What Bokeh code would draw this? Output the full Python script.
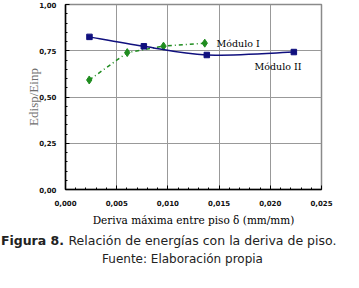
from bokeh.plotting import figure
from bokeh.layouts import column
from bokeh.models import Range1d, SingleIntervalTicker, CustomJSTickFormatter, Label
from bokeh.core.properties import value
from bokeh.embed import file_html
from bokeh.resources import INLINE

# ---- data ----
mod2_x = [0.00234, 0.00765, 0.0138, 0.0223]
mod2_y = [0.825, 0.774, 0.727, 0.743]
mod1_x = [0.00232, 0.00603, 0.00957, 0.0136]
mod1_y = [0.592, 0.740, 0.775, 0.791]
series_names = ["Módulo I", "Módulo II"]
x_title = "Deriva máxima entre piso δ (mm/mm)"
y_title = "Edisp/Einp"
caption_bold = "Figura 8."
caption_rest = "Relación de energías con la deriva de piso."
source_note = "Fuente: Elaboración propia"

BLUE = "#10107e"
GREEN = "#1f8c1f"
W = 343

p = figure(width=W, height=228, output_backend="svg", toolbar_location=None,
           x_range=Range1d(0, 0.025), y_range=Range1d(0, 1.0),
           min_border_left=65, min_border_right=22, min_border_top=4, min_border_bottom=38,
           frame_align=False)
p.background_fill_color = "white"
p.border_fill_color = "white"
p.outline_line_color = "#8a8a8a"
p.outline_line_width = 1.5

p.xaxis.ticker = SingleIntervalTicker(interval=0.005, num_minor_ticks=5)
p.yaxis.ticker = SingleIntervalTicker(interval=0.25, num_minor_ticks=5)
p.xaxis.formatter = CustomJSTickFormatter(code="return tick.toFixed(3).replace('.', ',');")
p.yaxis.formatter = CustomJSTickFormatter(code="return tick.toFixed(2).replace('.', ',');")

for ax in (p.xaxis[0], p.yaxis[0]):
    ax.axis_line_color = "black"
    ax.axis_line_width = 1.5
    ax.major_tick_in = 4
    ax.major_tick_out = 0
    ax.minor_tick_in = 2
    ax.minor_tick_out = 0
    ax.major_tick_line_color = "black"
    ax.minor_tick_line_color = "black"
    ax.major_label_text_font = "DejaVu Sans"
    ax.major_label_text_font_style = "bold"
    ax.major_label_text_font_size = "7px"
    ax.major_label_text_color = "#111111"

p.xaxis.major_label_standoff = 10
p.yaxis.major_label_standoff = 9
p.xaxis.axis_label = x_title
p.xaxis.axis_label_text_font = "DejaVu Serif"
p.xaxis.axis_label_text_font_style = "normal"
p.xaxis.axis_label_text_font_size = "10.5px"
p.xaxis.axis_label_text_color = "black"
p.xaxis.axis_label_standoff = 5
p.yaxis.axis_label = y_title
p.yaxis.axis_label_text_font = "Liberation Serif"
p.yaxis.axis_label_text_font_style = "normal"
p.yaxis.axis_label_text_font_size = "13px"
p.yaxis.axis_label_text_color = "#707070"
p.yaxis.axis_label_standoff = -5

p.xgrid.grid_line_color = "#999999"
p.ygrid.grid_line_color = "#999999"
p.xgrid.grid_line_width = 1
p.ygrid.grid_line_width = 1

# Module I: dash-dot straight line with diamonds
p.line(mod1_x, mod1_y, line_color=GREEN, line_width=1.5, line_dash="4 3 1 3")
p.scatter(mod1_x, mod1_y, marker="diamond", size=8, fill_color=GREEN, line_color=GREEN)

# Module II: smoothed line (Catmull-Rom through the data) with squares
n = len(mod2_x)
x0, y0, x1, y1, cx0, cy0, cx1, cy1 = [], [], [], [], [], [], [], []
for i in range(n - 1):
    pm = i - 1 if i > 0 else i
    pp = i + 2 if i + 2 < n else i + 1
    x0.append(mod2_x[i]); y0.append(mod2_y[i])
    x1.append(mod2_x[i + 1]); y1.append(mod2_y[i + 1])
    cx0.append(mod2_x[i] + (mod2_x[i + 1] - mod2_x[pm]) / 6)
    cy0.append(mod2_y[i] + (mod2_y[i + 1] - mod2_y[pm]) / 6)
    cx1.append(mod2_x[i + 1] - (mod2_x[pp] - mod2_x[i]) / 6)
    cy1.append(mod2_y[i + 1] - (mod2_y[pp] - mod2_y[i]) / 6)
p.bezier(x0=x0, y0=y0, x1=x1, y1=y1, cx0=cx0, cy0=cy0, cx1=cx1, cy1=cy1,
         line_color=BLUE, line_width=1.5)
p.scatter(mod2_x, mod2_y, marker="square", size=5.5, fill_color=BLUE, line_color=BLUE)

# series labels
p.add_layout(Label(x=0.01475, y=0.791, text=series_names[0], text_font="DejaVu Serif",
                   text_font_size="9.5px", text_baseline="middle", text_align="left",
                   text_color="black"))
p.add_layout(Label(x=0.01846, y=0.663, text=series_names[1], text_font="DejaVu Serif",
                   text_font_size="9.5px", text_baseline="middle", text_align="left",
                   text_color="black"))

# caption panel below the chart
c = figure(width=W, height=44, output_backend="svg", toolbar_location=None,
           x_range=Range1d(0, W), y_range=Range1d(0, 44),
           min_border_left=0, min_border_right=0, min_border_top=0, min_border_bottom=0,
           frame_align=False)
c.axis.visible = False
c.grid.visible = False
c.outline_line_color = None
c.background_fill_color = "white"
c.border_fill_color = "white"
c.text(x=[63.5], y=[32], text=[caption_bold], text_font=value("DejaVu Sans"),
       text_font_style="bold", text_font_size="12.5px", text_baseline="middle",
       text_align="right", text_color="#222222")
c.text(x=[68], y=[32], text=[caption_rest], text_font=value("DejaVu Sans"),
       text_font_size="12.5px", text_baseline="middle", text_align="left",
       text_color="#222222")
c.text(x=[182], y=[14], text=[source_note], text_font=value("DejaVu Sans"),
       text_font_size="12px", text_baseline="middle", text_align="center",
       text_color="#222222")

layout = column(p, c, spacing=0)
open("out.html", "w").write(file_html(layout, INLINE))
